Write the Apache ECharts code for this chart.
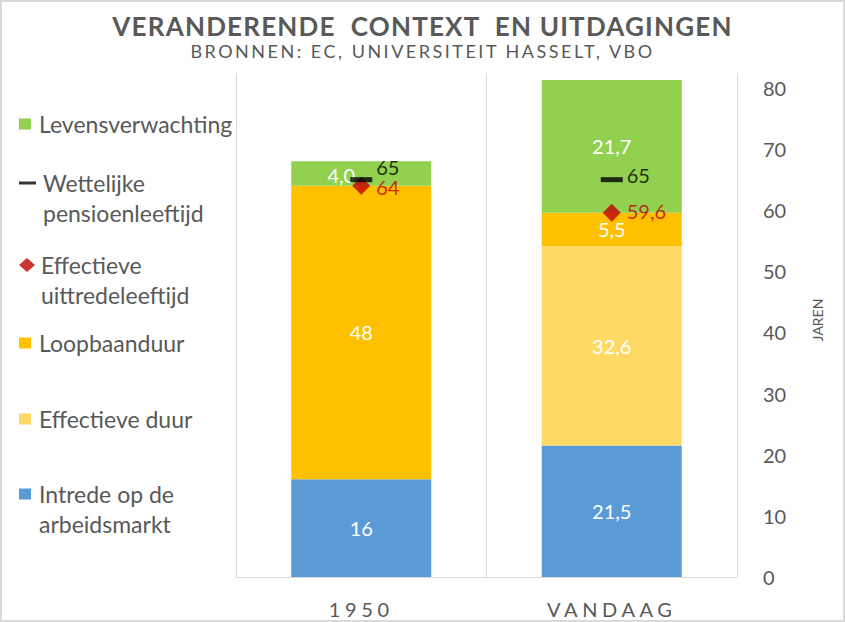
<!DOCTYPE html>
<html><head><meta charset="utf-8">
<script src="https://cdn.jsdelivr.net/npm/echarts@6/dist/echarts.min.js"></script>
<style>
html,body{margin:0;padding:0;background:#fff;}
#c{width:845px;height:622px;}
#c text[style*="SpacedTitle"]{letter-spacing:1.2px;}
#c text[style*="SpacedSub"]{letter-spacing:2.5px;}
#c text[style*="SpacedCat"]{letter-spacing:4.6px;}
</style></head>
<body><div id="c"></div>
<script>
// ---- data ----
const categories = ['1950', 'VANDAAG'];
const intrede = [16, 21.5];
const effectieveDuur = [null, 32.6];
const loopbaanduur = [48, 5.5];
const levensverwachting = [4.0, 21.7];
const wettelijkeLeeftijd = [65, 65];
const effectieveLeeftijd = [64, 59.6];
const yMin = 0, yMaxTick = 80, yInterval = 10;
const names = {
  intrede: 'Intrede op de arbeidsmarkt',
  effDuur: 'Effectieve duur',
  loopbaan: 'Loopbaanduur',
  levens: 'Levensverwachting',
  wettelijk: 'Wettelijke pensioenleeftijd',
  effLeeftijd: 'Effectieve uittredeleeftijd'
};
const legendLines = {
  'Intrede op de arbeidsmarkt': ['Intrede op de', 'arbeidsmarkt'],
  'Wettelijke pensioenleeftijd': ['Wettelijke', 'pensioenleeftijd'],
  'Effectieve uittredeleeftijd': ['Effectieve', 'uittredeleeftijd']
};

const GREY = '#595959';
const FONT = 'Lato';
const comma = v => String(v).replace('.', ',');

const chart = echarts.init(document.getElementById('c'), null, {renderer: 'svg'});

const barLabel = (fmt) => ({
  show: true, position: 'inside', color: '#fff', fontFamily: FONT, fontSize: 20,
  formatter: p => fmt(p.value)
});

// multi-line legend entries: leading empty line keeps the icon level with the first line
const legendBase = {
  orient: 'vertical', padding: 0, selectedMode: false, itemGap: 0,
  textStyle: {fontFamily: FONT, fontSize: 23, color: GREY, lineHeight: 30},
  formatter: n => legendLines[n] ? '\n' + legendLines[n].join('\n') : n
};
function mkLegend(name, icon, top, w, h, padLeft) {
  return Object.assign({}, legendBase, {
    data: [{name: name, icon: icon}], top: top, left: 19, itemWidth: w, itemHeight: h,
    textStyle: Object.assign({}, legendBase.textStyle, {padding: [0, 0, 0, padLeft]})
  });
}

const option = {
  animation: false,
  backgroundColor: '#fff',
  title: {
    left: 'center', top: 8, itemGap: 3, padding: [5, 5, 5, 15],
    text: 'VERANDERENDE  CONTEXT  EN UITDAGINGEN',
    textStyle: {fontFamily: 'SpacedTitle, ' + FONT, fontWeight: 'bold', fontSize: 26, color: GREY},
    subtext: 'BRONNEN: EC, UNIVERSITEIT HASSELT, VBO',
    subtextStyle: {fontFamily: 'SpacedSub, ' + FONT, fontWeight: 'normal', fontSize: 18, color: GREY}
  },
  legend: [
    mkLegend(names.levens, 'rect', 109, 12, 11, 3),
    mkLegend(names.wettelijk, 'rect', 138, 17, 3, 2),
    mkLegend(names.effLeeftijd, 'diamond', 220, 16, 14, 1),
    mkLegend(names.loopbaan, 'rect', 328, 12, 11, 3),
    mkLegend(names.effDuur, 'rect', 404, 12, 11, 3),
    mkLegend(names.intrede, 'rect', 449, 12, 11, 3)
  ],
  graphic: [{
    type: 'rect', shape: {x: 1, y: 1, width: 843, height: 620},
    style: {fill: 'none', stroke: '#d9d9d9', lineWidth: 2}, silent: true
  }],
  grid: {left: 236, right: 108, top: 73, bottom: 45},
  xAxis: {
    type: 'category', data: categories,
    axisLine: {show: true, lineStyle: {color: '#d9d9d9', width: 1}},
    axisTick: {show: false},
    splitLine: {show: true, lineStyle: {color: '#d9d9d9', width: 1}},
    axisLabel: {fontFamily: 'SpacedCat, ' + FONT, fontSize: 20, color: GREY, margin: 22}
  },
  yAxis: {
    type: 'value', position: 'right', min: yMin, max: 82.45, interval: yInterval,
    axisLine: {show: false}, axisTick: {show: false}, splitLine: {show: false},
    axisLabel: {fontFamily: FONT, fontSize: 20, color: GREY, margin: 26,
      formatter: v => (v % yInterval === 0 && v <= yMaxTick) ? String(v) : ''},
    name: 'JAREN', nameLocation: 'middle', nameRotate: 90, nameGap: 73,
    nameTextStyle: {fontFamily: FONT, fontSize: 14, color: GREY, padding: [0, 0, 0, 10]}
  },
  series: [
    {name: names.intrede, type: 'bar', stack: 'a', barWidth: 140, data: intrede,
     itemStyle: {color: '#5B9BD5'}, label: barLabel(comma)},
    {name: names.effDuur, type: 'bar', stack: 'a', barWidth: 140, data: effectieveDuur,
     itemStyle: {color: '#FFD966'}, label: barLabel(comma)},
    {name: names.loopbaan, type: 'bar', stack: 'a', barWidth: 140, data: loopbaanduur,
     itemStyle: {color: '#FFC000'}, label: barLabel(comma)},
    {name: names.levens, type: 'bar', stack: 'a', barWidth: 140,
     data: levensverwachting.map((v, i) => i === 0 ? {value: v, label: {offset: [-20, 1]}} : v),
     itemStyle: {color: '#92D050'}, label: barLabel(v => v.toFixed(1).replace('.', ','))},
    {name: names.effLeeftijd, type: 'scatter', symbol: 'diamond', symbolSize: 18, z: 5,
     data: effectieveLeeftijd.map((v, i) => i === 1 ? {value: v, label: {offset: [0, -2]}} : {value: v, label: {offset: [0, 1]}}),
     itemStyle: {color: '#C00000'},
     label: {show: true, position: 'right', distance: 6, color: '#C00000', fontFamily: FONT, fontSize: 20,
       lineHeight: 17, formatter: p => comma(p.value)}},
    {name: names.wettelijk, type: 'scatter', symbol: 'rect', symbolSize: [22, 5], z: 6,
     data: wettelijkeLeeftijd.map((v, i) => ({value: v, label: {offset: i === 0 ? [0, -13] : [0, -5]}})),
     itemStyle: {color: '#000'},
     label: {show: true, position: 'right', distance: 4, color: '#000', fontFamily: FONT, fontSize: 20,
       lineHeight: 17, formatter: p => comma(p.value)}}
  ]
};
chart.setOption(option);
</script>
</body></html>
